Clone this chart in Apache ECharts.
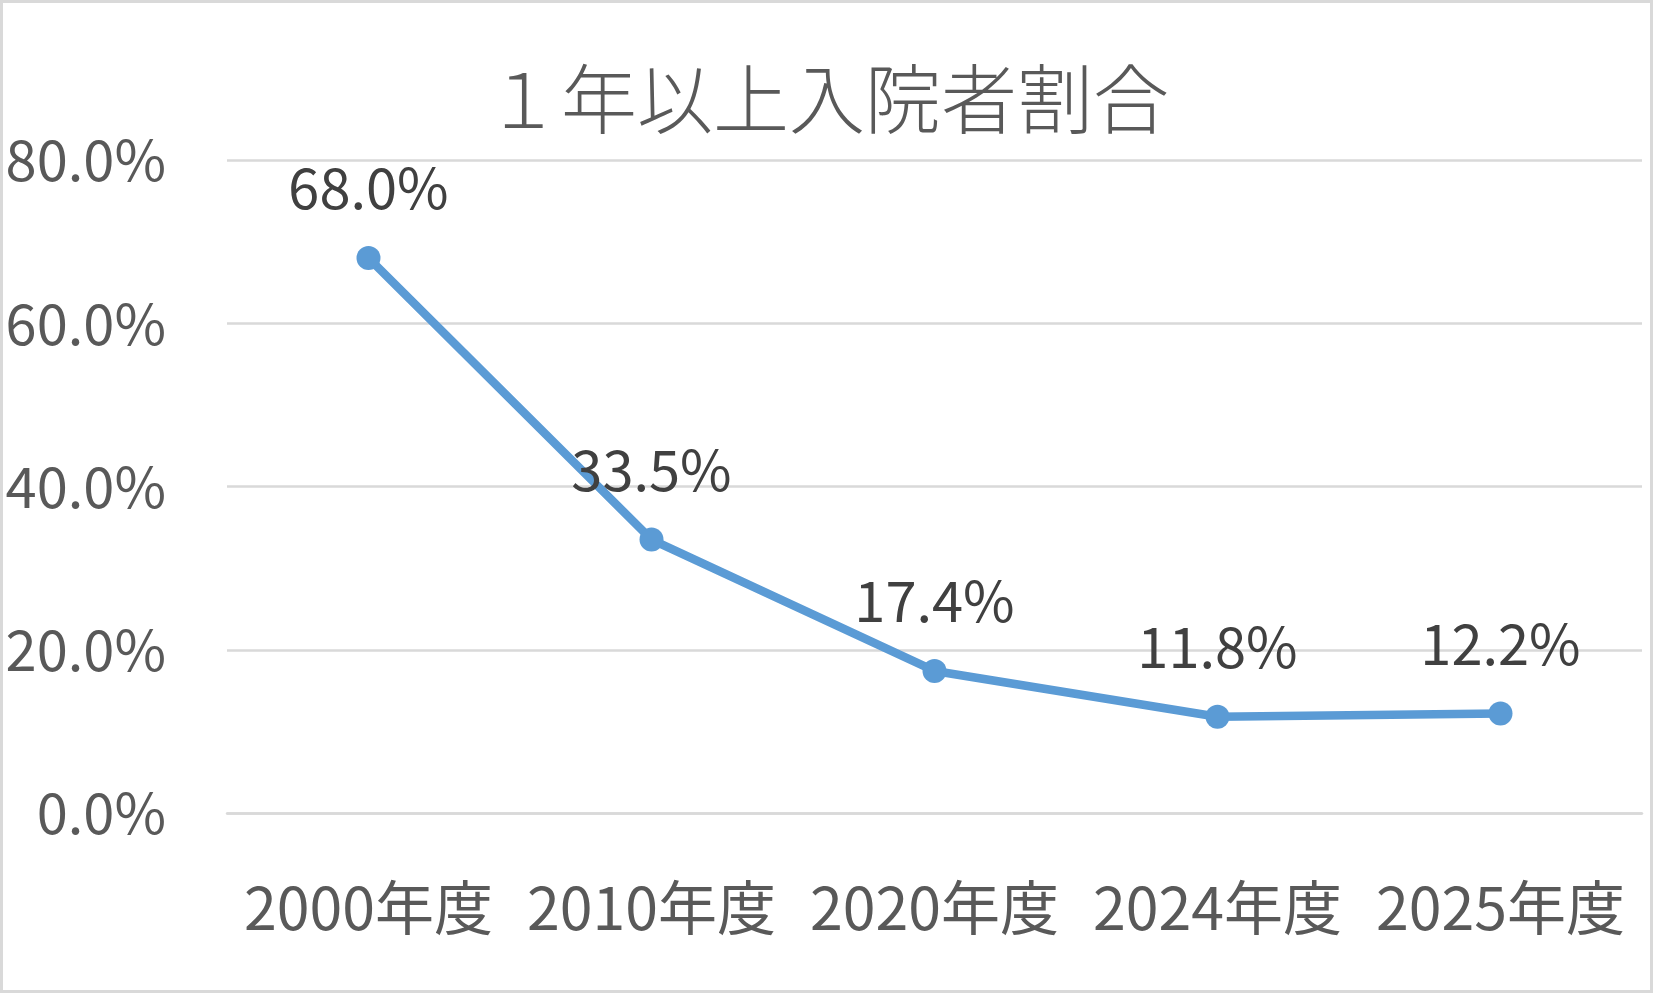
<!DOCTYPE html>
<html>
<head>
<meta charset="utf-8">
<script src="https://cdn.jsdelivr.net/npm/echarts@6/dist/echarts.min.js"></script>
<style>
  html, body { margin: 0; padding: 0; background: #fff; }
  #chart { width: 1653px; height: 993px; }
</style>
</head>
<body>
<div id="chart"></div>
<script>
// データ
const categories = ['2000年度', '2010年度', '2020年度', '2024年度', '2025年度']
const ratioValues = [68.0, 33.5, 17.4, 11.8, 12.2] // 1年以上入院者割合 (%)
const yTicks = [0, 20, 40, 60, 80]

const FONT = '"Noto Sans CJK JP", "Noto Sans", sans-serif'

const chart = echarts.init(document.getElementById('chart'))

const option = {
  backgroundColor: '#fff',
  animation: false,
  title: {
    text: '１年以上入院者割合',
    left: 480,
    top: 56,
    textStyle: {
      fontFamily: FONT,
      fontSize: 76,
      fontWeight: 300,
      color: '#595959'
    }
  },
  graphic: [
    {
      type: 'rect',
      shape: { x: 1.5, y: 1.5, width: 1650, height: 990 },
      style: { fill: 'none', stroke: '#d9d9d9', lineWidth: 3 },
      silent: true
    }
  ],
  grid: {
    left: 227,
    right: 11,
    top: 160,
    bottom: 180,
    outerBoundsMode: 'none'
  },
  xAxis: {
    type: 'category',
    data: categories,
    axisLine: { lineStyle: { color: '#d9d9d9', width: 2.5 } },
    axisTick: { show: false },
    axisLabel: {
      interval: 0,
      hideOverlap: false,
      color: '#595959',
      fontFamily: FONT,
      fontSize: 59,
      margin: 65
    }
  },
  yAxis: {
    type: 'value',
    min: yTicks[0],
    max: yTicks[yTicks.length - 1],
    interval: 20,
    axisLine: { show: false },
    axisTick: { show: false },
    axisLabel: {
      color: '#595959',
      fontFamily: FONT,
      fontSize: 56,
      margin: 61,
      formatter: v => v.toFixed(1) + '%'
    },
    splitLine: { lineStyle: { color: '#d9d9d9', width: 2.5 } }
  },
  series: [
    {
      name: '1年以上入院者割合',
      type: 'line',
      data: ratioValues,
      symbol: 'circle',
      symbolSize: 24,
      lineStyle: { color: '#5b9bd5', width: 8.5 },
      itemStyle: { color: '#5b9bd5' },
      label: {
        show: true,
        position: 'top',
        distance: 30,
        color: '#404040',
        fontFamily: FONT,
        fontSize: 56,
        formatter: p => p.value.toFixed(1) + '%'
      }
    }
  ]
}

chart.setOption(option)
</script>
</body>
</html>
